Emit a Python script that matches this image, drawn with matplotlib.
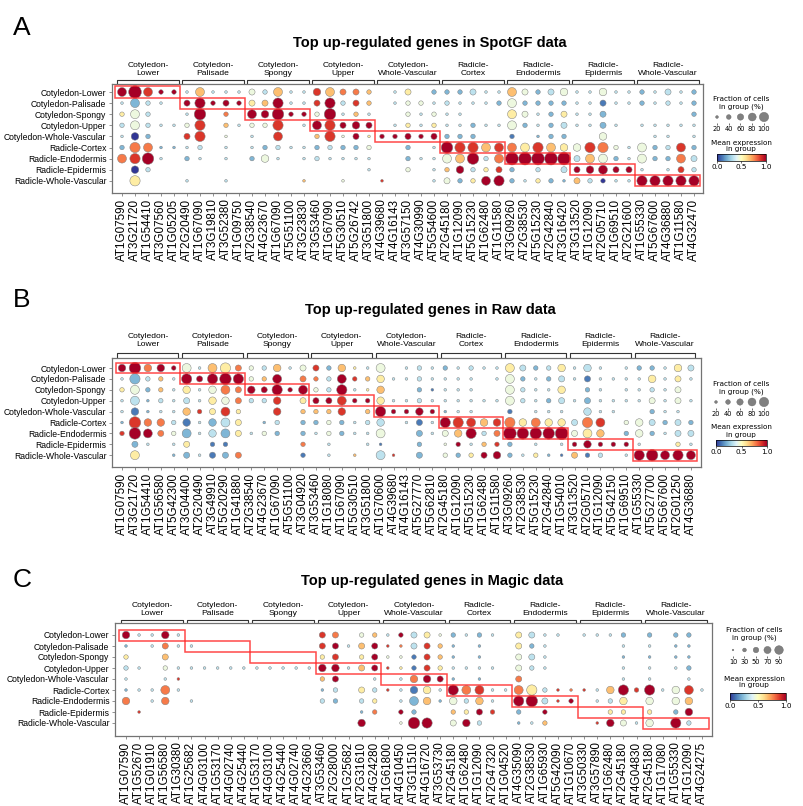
import numpy as np
import matplotlib
matplotlib.use('Agg')
import matplotlib.pyplot as plt
from matplotlib.patches import Rectangle
from matplotlib.cm import ScalarMappable
from matplotlib.colors import Normalize

plt.rcParams['font.family'] = ['Liberation Sans', 'DejaVu Sans']

W, H = 804, 806

cell_types = ['Cotyledon-Lower', 'Cotyledon-Palisade', 'Cotyledon-Spongy', 'Cotyledon-Upper',
              'Cotyledon-Whole-Vascular', 'Radicle-Cortex', 'Radicle-Endodermis',
              'Radicle-Epidermis', 'Radicle-Whole-Vascular']
group_labels = ['Cotyledon-\nLower', 'Cotyledon-\nPalisade', 'Cotyledon-\nSpongy', 'Cotyledon-\nUpper',
                'Cotyledon-\nWhole-Vascular', 'Radicle-\nCortex', 'Radicle-\nEndodermis',
                'Radicle-\nEpidermis', 'Radicle-\nWhole-Vascular']

genes_a = ['AT1G07590', 'AT3G21720', 'AT1G54410', 'AT3G07560', 'AT1G05205',
           'AT2G20490', 'AT1G67090', 'AT3G19810', 'AT3G52380', 'AT1G09750',
           'AT2G38540', 'AT4G23670', 'AT1G67090', 'AT5G51100', 'AT3G23830',
           'AT3G53460', 'AT1G67090', 'AT5G30510', 'AT5G26742', 'AT3G51800',
           'AT4G39680', 'AT4G16143', 'AT3G57150', 'AT4G30990', 'AT5G54600',
           'AT2G45180', 'AT1G12090', 'AT5G15230', 'AT1G62480', 'AT1G11580',
           'AT3G09260', 'AT2G38530', 'AT5G15230', 'AT2G42840', 'AT3G16420',
           'AT3G13520', 'AT1G12090', 'AT2G05710', 'AT1G69510', 'AT2G21600',
           'AT1G55330', 'AT5G67600', 'AT4G36880', 'AT1G11580', 'AT4G32470']
genes_b = ['AT1G07590', 'AT3G21720', 'AT1G54410', 'AT1G56580', 'AT5G42300',
           'AT3G04400', 'AT2G20490', 'AT3G49910', 'AT5G20290', 'AT1G41880',
           'AT2G38540', 'AT4G23670', 'AT1G67090', 'AT5G51100', 'AT3G04920',
           'AT3G53460', 'AT1G18080', 'AT1G67090', 'AT5G30510', 'AT3G51800',
           'AT1G70600', 'AT4G39680', 'AT4G16143', 'AT5G27770', 'AT5G62810',
           'AT2G45180', 'AT1G12090', 'AT5G15230', 'AT1G62480', 'AT1G11580',
           'AT3G09260', 'AT2G38530', 'AT5G15230', 'AT2G42840', 'AT1G54010',
           'AT3G13520', 'AT2G05710', 'AT1G12090', 'AT5G42150', 'AT1G69510',
           'AT1G55330', 'AT5G27700', 'AT5G67600', 'AT2G01250', 'AT4G36880']
genes_c = ['AT1G07590', 'AT1G52670', 'AT1G01910', 'AT1G56580', 'AT1G30380',
           'AT1G25682', 'AT4G03100', 'AT1G53170', 'AT4G02740', 'AT4G25440',
           'AT1G53170', 'AT4G03100', 'AT4G25440', 'AT4G02740', 'AT4G23660',
           'AT3G53460', 'AT2G28000', 'AT1G25682', 'AT2G31610', 'AT4G24280',
           'AT1G61800', 'AT4G10450', 'AT3G11510', 'AT4G16720', 'AT3G53730',
           'AT2G45180', 'AT1G62480', 'AT1G12090', 'AT2G47320', 'AT1G04520',
           'AT4G35090', 'AT2G38530', 'AT1G65930', 'AT5G42090', 'AT1G10670',
           'AT3G50330', 'AT3G57890', 'AT1G62480', 'AT2G45180', 'AT4G04830',
           'AT2G45180', 'AT1G17080', 'AT1G55330', 'AT1G12090', 'AT4G24275']

# dot size code (fraction of cells, 0 = no dot, 9 = all) per row, one digit per gene
size_a = ['58522 15111 32511 45332 01302 22311 53234 11411 21312',
          '15210 36232 33611 36232 01221 21112 52222 11311 21212',
          '25200 17020 54722 27121 00212 11000 53123 11300 00002',
          '25211 26021 22601 56343 01212 11211 52123 11310 11111',
          '14200 36010 10500 26131 22323 22200 20122 00400 01101',
          '26511 12010 12211 22222 00201 76655 55654 46621 52252',
          '56710 21010 24101 21111 00211 55725 88888 35521 52253',
          '04200 00000 00000 00001 00201 24223 20203 34533 10132',
          '06000 10010 00001 00100 10001 32256 21221 32211 66666']
# mean expression code (0 = 0.0 ... 9 = 1.0)
color_a = ['99899 36333 43633 86776 33532 22333 64234 33433 23332',
           '32333 99999 56933 89386 33443 33332 42222 33133 23332',
           '54333 39373 99999 49363 33434 33333 54325 33233 33332',
           '34333 48363 44833 98999 33535 33233 42323 33233 33333',
           '30233 88343 33833 68495 99999 22233 13222 33433 33333',
           '27722 33333 32333 23224 33233 98868 75865 48743 42382',
           '78933 23333 24333 33333 33233 46937 99999 36423 42273',
           '30333 33333 33333 33333 33433 69358 23333 99999 33383',
           '35333 33333 33336 33433 83333 42599 23522 63033 99999']

size_b = ['47442 51563 22413 32411 50121 21211 53224 14101 22143',
          '16221 63676 22503 22522 41121 11101 52123 13111 14131',
          '25221 41453 43625 22611 40021 11100 52114 02101 12130',
          '15121 31443 22403 33522 41121 11111 52123 13111 13131',
          '14111 42352 00402 22402 62242 11100 20111 04110 02110',
          '17442 41453 01202 22212 40131 66544 64544 36502 43232',
          '27532 51453 12202 12211 50031 34623 87778 35402 42133',
          '03101 30220 00002 01001 10020 12122 20101 24222 10021',
          '05001 31333 00002 01010 51030 22234 21211 32201 67565']
color_b = ['99799 43657 43634 82653 43333 23333 53235 33333 22353',
           '32363 99999 46937 73986 53333 33333 42323 31333 35353',
           '54263 53477 99999 43935 63321 33333 43335 32333 33343',
           '33233 33547 33835 99899 53333 33333 43323 32333 34343',
           '31233 68585 33836 66836 99999 23333 13333 33333 32333',
           '28773 13235 32332 24233 33313 98868 75755 37834 43232',
           '89974 23325 34232 34233 43323 46937 99999 45632 42333',
           '32333 53113 33337 33333 13323 49368 23333 99999 33353',
           '35332 23127 33331 33363 38323 42599 23521 61333 99999']

size_c = ['41141 00000 00000 33022 12331 21210 33110 11120 20220',
          '10131 10000 00000 33133 11332 10100 32100 00010 10110',
          '20030 00000 00000 23023 11232 10100 33100 00010 10110',
          '21021 11111 11111 44133 11232 11110 32100 00010 10120',
          '10011 00000 00000 23001 01443 10100 30000 00010 10010',
          '11151 00000 00000 12032 11441 65511 56211 11462 61451',
          '40140 10000 00000 22022 01541 42410 67312 01240 40440',
          '01000 00000 00000 00012 02200 22320 20200 00220 20240',
          '00000 00000 00000 00040 01760 34200 11200 01431 40620']
color_c = ['93393 33333 33333 87346 39354 23233 53333 33323 23223',
           '23373 33333 33333 89369 87386 23233 52333 33333 33223',
           '53363 33333 33333 58359 44186 23233 43333 33323 23223',
           '33343 33333 33333 99369 85185 33333 43333 33333 33323',
           '33338 33333 33333 69333 33799 23233 73333 33333 33333',
           '23373 33333 33333 23353 83153 97833 75387 83698 93483',
           '73373 33333 33333 32335 33262 43633 99389 33353 43463',
           '38333 33333 33333 33327 39233 65983 23933 33553 53293',
           '33333 33333 33333 33393 34993 49333 23633 38943 43933']

size_ticks_ab = [20, 40, 60, 80, 100]
size_ticks_c = [10, 30, 50, 70, 90]

cmap = plt.get_cmap('RdYlBu_r')
fig = plt.figure(figsize=(W / 100, H / 100), dpi=100)


def decode(rows):
    return np.array([[int(ch) for ch in r.replace(' ', '')] for r in rows])


def px_axes(x0, y0, x1, y1):
    return fig.add_axes([x0 / W, 1 - y1 / H, (x1 - x0) / W, (y1 - y0) / H])


def draw_panel(letter, title, genes, sizes, colors, g):
    S = decode(sizes)
    C = decode(colors)
    x0, y0, x1, y1 = g['box']
    cx, dx = g['col']
    ry, dy = g['row']
    ax = px_axes(x0, y0, x1, y1)
    ax.set_xlim(-(cx - x0) / dx, (x1 - cx) / dx)
    ax.set_ylim((y1 - ry) / dy, -(ry - y0) / dy)

    yy, xx = np.nonzero(S)
    ax.scatter(xx, yy, s=100 * (S[yy, xx] / 9) ** 1.5, c=C[yy, xx] / 9, cmap=cmap,
               vmin=0, vmax=1, edgecolors='0.5', linewidths=0.35, zorder=3)

    # red boxes along the diagonal
    for k in range(9):
        ax.add_patch(Rectangle((5 * k - 0.5, k - 0.5), 5, 1, fill=False,
                               edgecolor='#ff2a2a', lw=1.1, alpha=0.85, zorder=4))

    ax.set_xticks(range(len(genes)))
    ax.set_xticklabels(genes, rotation=90, fontsize=8.4)
    ax.set_yticks(range(len(cell_types)))
    ax.set_yticklabels(cell_types, fontsize=6.2)
    ax.tick_params(length=2, width=0.5, color='0.4', pad=2)
    for sp in ax.spines.values():
        sp.set_color('0.45')
        sp.set_linewidth(0.9)

    # group brackets
    hb = y1 - y0
    trans = ax.get_xaxis_transform()
    yb = 1 + (y0 - g['bracket']) / hb
    for k in range(9):
        xa, xb = 5 * k - 0.35, 5 * k + 4.35
        ax.plot([xa, xa, xb, xb], [1.005, yb, yb, 1.005], transform=trans,
                color='0.2', lw=0.8, clip_on=False)
        ax.text(5 * k + 2, 1 + (y0 - g['glabel']) / hb, group_labels[k], transform=trans,
                ha='center', va='bottom', fontsize=6.1, linespacing=1.15)

    fig.text(g['title'][0] / W, 1 - g['title'][1] / H, title, ha='center', va='center',
             fontsize=10.5, fontweight='bold')
    fig.text(22 / W, 1 - g['letter'] / H, letter, ha='center', va='center', fontsize=19)


def draw_legend(ticks, g):
    fx, fy = g['frac_title']
    fig.text(fx / W, 1 - fy / H, 'Fraction of cells\nin group (%)', ha='center', va='center',
             fontsize=5.2, family='DejaVu Sans', linespacing=1.2)
    xa, xb, yd = g['dots']
    sp = (xb - xa) / 4
    lax = px_axes(xa - sp / 2, yd - 6, xb + sp / 2, yd + 6)
    lax.set_xlim(-0.5, 4.5)
    lax.set_ylim(-1, 1)
    lax.scatter(range(5), [0] * 5, s=45 * (np.array(ticks) / 100) ** 1.5,
                color='0.5', edgecolors='0.4', linewidths=0.3)
    lax.set_xticks(range(5))
    lax.set_xticklabels([str(t) for t in ticks], fontsize=4.8, family='DejaVu Sans')
    lax.set_yticks([])
    lax.tick_params(axis='x', length=1.5, width=0.4, pad=1)
    for s in lax.spines.values():
        s.set_visible(False)

    mx, my = g['mean_title']
    fig.text(mx / W, 1 - my / H, 'Mean expression\nin group', ha='center', va='center',
             fontsize=5.2, family='DejaVu Sans', linespacing=1.2)
    cax = px_axes(*g['cbar'])
    cb = fig.colorbar(ScalarMappable(Normalize(0, 1), cmap), cax=cax,
                      orientation='horizontal', ticks=[0, 0.5, 1])
    cb.ax.set_xticklabels(['0.0', '0.5', '1.0'], fontsize=5.2, family='DejaVu Sans')
    cb.ax.tick_params(length=1.5, width=0.4, pad=1)
    cb.outline.set_linewidth(0.5)


geo_a = dict(box=(112, 84, 703, 193), col=(122, 13.0), row=(92, 11.1),
             bracket=80, glabel=77, title=(430, 43), letter=28)
geo_b = dict(box=(112, 358, 701, 467), col=(122, 12.93), row=(368, 10.9),
             bracket=353, glabel=348, title=(430, 310), letter=300)
geo_c = dict(box=(115, 623, 712, 736), col=(126, 13.09), row=(635, 11.0),
             bracket=620, glabel=617, title=(432, 581), letter=580)

draw_panel('A', 'Top up-regulated genes in SpotGF data', genes_a, size_a, color_a, geo_a)
draw_panel('B', 'Top up-regulated genes in Raw data', genes_b, size_b, color_b, geo_b)
draw_panel('C', 'Top up-regulated genes in Magic data', genes_c, size_c, color_c, geo_c)

draw_legend(size_ticks_ab, dict(frac_title=(741, 103), dots=(717, 764, 117),
                                mean_title=(741, 146), cbar=(717, 154, 766, 161)))
draw_legend(size_ticks_ab, dict(frac_title=(741, 388), dots=(716, 764, 402),
                                mean_title=(741, 431), cbar=(716, 440, 767, 446)))
draw_legend(size_ticks_c, dict(frac_title=(754, 634), dots=(733, 779, 650),
                               mean_title=(754, 682), cbar=(730, 693, 786, 700)))

fig.savefig('out.png', dpi=100)
